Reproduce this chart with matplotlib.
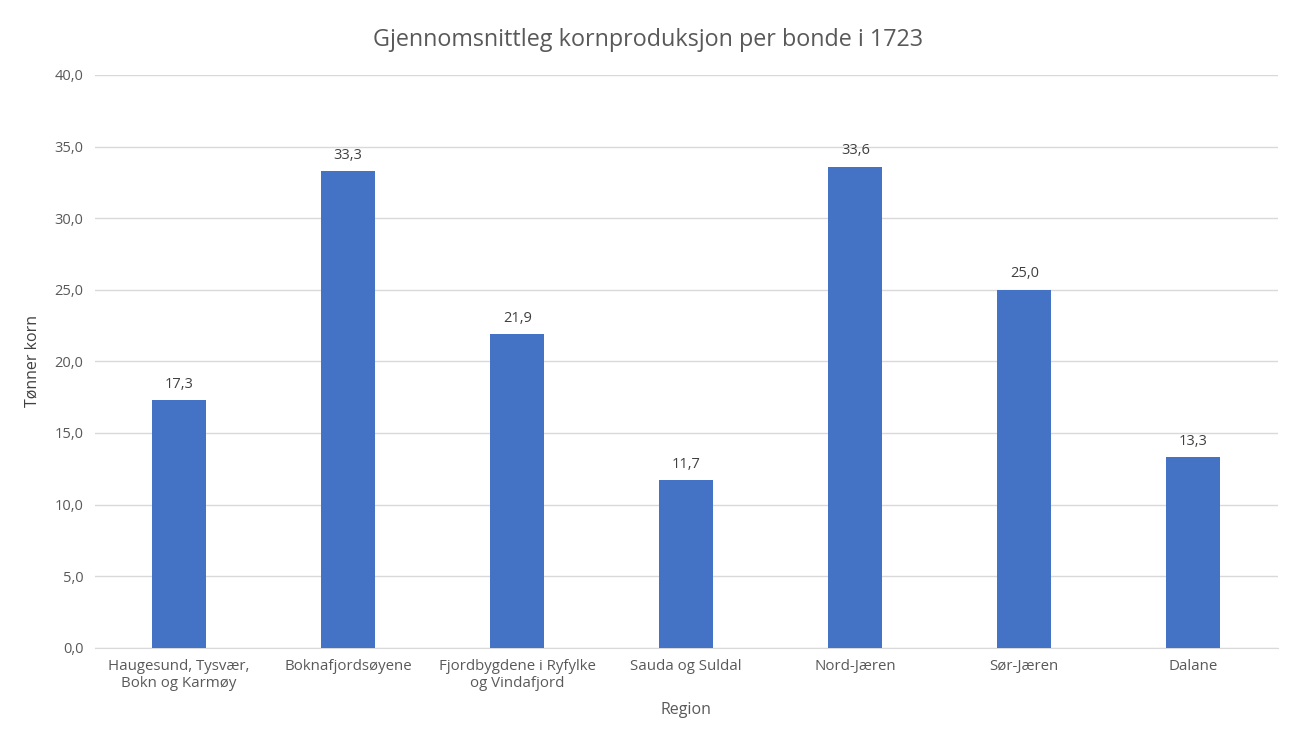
import matplotlib.pyplot as plt
import numpy as np

plt.rcParams['font.family'] = ['Open Sans', 'DejaVu Sans']

regions = ["Haugesund, Tysvær,\nBokn og Karmøy", "Boknafjordsøyene",
           "Fjordbygdene i Ryfylke\nog Vindafjord", "Sauda og Suldal",
           "Nord-Jæren", "Sør-Jæren", "Dalane"]
values = [17.3, 33.3, 21.9, 11.7, 33.6, 25.0, 13.3]
yticks = [0, 5, 10, 15, 20, 25, 30, 35, 40]

text_col = "#595959"
bar_col = "#4472C4"

fig = plt.figure(figsize=(12.96, 7.42), dpi=100)
ax = fig.add_axes([0.073, 0.127, 0.913, 0.772])

x = np.arange(len(regions))
bars = ax.bar(x, values, width=0.32, color=bar_col, zorder=3)

for b, v in zip(bars, values):
    ax.annotate(f"{v:.1f}".replace(".", ","), (b.get_x() + b.get_width() / 2, v),
                xytext=(0, 6), textcoords="offset points", ha="center", va="bottom",
                fontsize=10.5, color="#404040")

ax.set_ylim(0, 40)
ax.set_xlim(-0.5, len(regions) - 0.5)
ax.set_yticks(yticks)
ax.set_yticklabels([f"{t:.1f}".replace(".", ",") for t in yticks], fontsize=10.5, color=text_col)
ax.set_xticks(x)
ax.set_xticklabels(regions, fontsize=10.8, color=text_col)
ax.tick_params(length=0, pad=8)
ax.yaxis.grid(True, color="#D9D9D9", linewidth=1, zorder=0)

for s in ["top", "right", "left"]:
    ax.spines[s].set_visible(False)
ax.spines["bottom"].set_color("#D9D9D9")

ax.set_xlabel("Region", fontsize=11.5, color=text_col, labelpad=8)
ax.set_ylabel("Tønner korn", fontsize=11.5, color="#404040", labelpad=10)
fig.suptitle("Gjennomsnittleg kornproduksjon per bonde i 1723", fontsize=16.8,
             color=text_col, y=0.962)

fig.savefig("out.png", dpi=100)
